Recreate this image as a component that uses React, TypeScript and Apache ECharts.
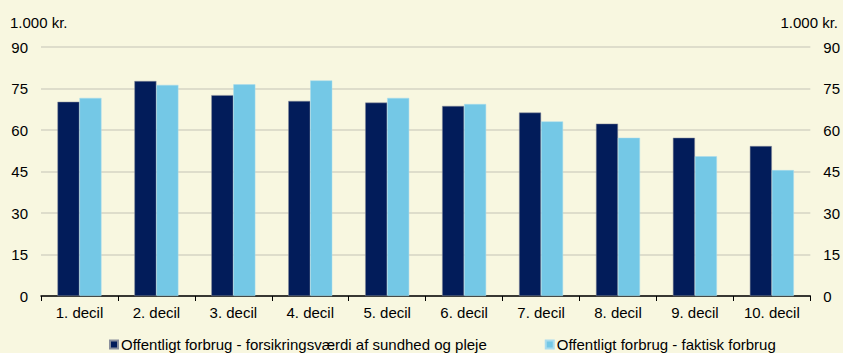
import React, { useEffect, useRef } from "react";
import * as echarts from "echarts";

const categories = ["1. decil", "2. decil", "3. decil", "4. decil", "5. decil", "6. decil", "7. decil", "8. decil", "9. decil", "10. decil"];
const seriesNames = ["Offentligt forbrug - forsikringsværdi af sundhed og pleje", "Offentligt forbrug - faktisk forbrug"];
const insuranceValues = [70.2, 77.7, 72.6, 70.5, 69.9, 68.7, 66.3, 62.3, 57.2, 54.2];
const actualValues = [71.6, 76.3, 76.5, 77.9, 71.6, 69.4, 63.1, 57.2, 50.5, 45.5];
const unitLabel = "1.000 kr.";

const FONT = "Liberation Sans, Arial, sans-serif";
const FS = 15;

export default function App() {
  const ref = useRef<HTMLDivElement>(null);
  useEffect(() => {
    if (!ref.current) return;
    const chart = echarts.init(ref.current, null, { renderer: "svg" });
    const yAxisCommon = {
      type: "value",
      min: 0,
      max: 90,
      interval: 15,
      axisLine: { show: false },
      axisTick: { show: false },
      axisLabel: { color: "#000", fontSize: FS, fontFamily: FONT, margin: 13 },
    };
    chart.setOption({
      animation: false,
      backgroundColor: "#f8f7e0",
      textStyle: { fontFamily: FONT, fontSize: FS },
      grid: { left: 41, right: 30, top: 47, bottom: 57 },
      legend: {
        left: 104,
        bottom: -4,
        itemWidth: 8,
        itemHeight: 8,
        itemGap: 58,
        icon: "rect",
        textStyle: { color: "#000", fontSize: FS, fontFamily: FONT, padding: [0, 0, 0, -2] },
        data: seriesNames,
      },
      graphic: [
        { type: "text", left: 10, top: 15, style: { text: unitLabel, fill: "#000", fontSize: FS, fontFamily: FONT } },
        { type: "text", right: 5, top: 15, style: { text: unitLabel, fill: "#000", fontSize: FS, fontFamily: FONT } },
      ],
      xAxis: {
        type: "category",
        data: categories,
        axisLine: { show: true, lineStyle: { color: "#000", width: 1.5 } },
        axisTick: { show: true, length: 5, lineStyle: { color: "#000" } },
        axisLabel: { color: "#000", fontSize: FS, fontFamily: FONT, margin: 9 },
        splitLine: { show: false },
      },
      yAxis: [
        { ...yAxisCommon, position: "left", splitLine: { show: true, lineStyle: { color: "#d6d5c4", width: 1.5 } } },
        { ...yAxisCommon, position: "right", splitLine: { show: false } },
      ],
      series: [
        {
          name: seriesNames[0],
          type: "bar",
          data: insuranceValues,
          barWidth: 22,
          barGap: "0%",
          itemStyle: { color: "#021c5a", borderColor: "#8a8f9c", borderWidth: 0.5 },
        },
        {
          name: seriesNames[1],
          type: "bar",
          data: actualValues,
          barWidth: 22,
          barGap: "0%",
          itemStyle: { color: "#74c8e6", borderColor: "#a9dcee", borderWidth: 0.5 },
        },
      ],
    });
    return () => chart.dispose();
  }, []);
  return <div ref={ref} style={{ position: "fixed", left: 0, top: 0, width: 843, height: 353 }} />;
}
